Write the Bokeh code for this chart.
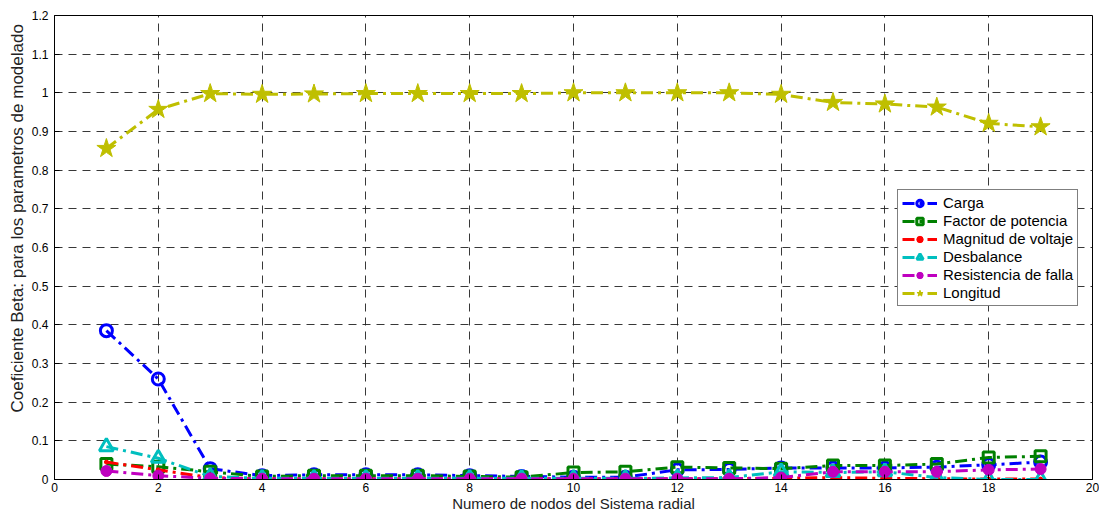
from bokeh.plotting import figure
from bokeh.models import Legend, LegendItem, FixedTicker, Title
from bokeh.embed import file_html
from bokeh.resources import INLINE

nodes = list(range(1, 20))
carga = [0.385, 0.26, 0.028, 0.010, 0.012, 0.012, 0.012, 0.010, 0.008, 0.006,
         0.006, 0.025, 0.026, 0.030, 0.030, 0.030, 0.032, 0.038, 0.045]
factor = [0.040, 0.033, 0.020, 0.008, 0.010, 0.010, 0.010, 0.008, 0.006, 0.018,
          0.020, 0.032, 0.030, 0.028, 0.036, 0.036, 0.040, 0.057, 0.060]
magnitud = [0.045, 0.025, 0.005, 0.002, 0.002, 0.002, 0.002, 0.002, 0.002, 0.002,
            0.002, 0.002, 0.002, 0.003, 0.005, 0.003, 0.002, 0.001, 0.001]
desbalance = [0.085, 0.055, 0.008, 0.003, 0.003, 0.003, 0.003, 0.003, 0.003, 0.003,
              0.003, 0.004, 0.005, 0.020, 0.018, 0.020, 0.005, 0.000, 0.000]
resistencia = [0.022, 0.010, 0.003, 0.002, 0.002, 0.002, 0.002, 0.002, 0.002, 0.002,
               0.002, 0.002, 0.002, 0.005, 0.020, 0.020, 0.020, 0.025, 0.027]
longitud = [0.856, 0.957, 0.998, 0.996, 0.997, 0.998, 0.998, 0.998, 0.998, 1.000,
            1.000, 1.000, 1.000, 0.996, 0.975, 0.971, 0.963, 0.921, 0.912]

series_names = ["Carga", "Factor de potencia", "Magnitud de voltaje",
                "Desbalance", "Resistencia de falla", "Longitud"]

x_ticks = [0, 2, 4, 6, 8, 10, 12, 14, 16, 18, 20]
y_ticks = [0, 0.1, 0.2, 0.3, 0.4, 0.5, 0.6, 0.7, 0.8, 0.9, 1.0, 1.1, 1.2]
y_tick_labels = ["0", "0.1", "0.2", "0.3", "0.4", "0.5", "0.6", "0.7", "0.8",
                 "0.9", "1", "1.1", "1.2"]
x_label = "Numero de nodos del Sistema radial"
y_label = "Coeficiente Beta: para los parametros de modelado"

FONT = "Liberation Sans"

p = figure(width=1099, height=514, x_range=(0, 20), y_range=(0, 1.2),
           output_backend="svg", toolbar_location=None,
           min_border_left=54, min_border_right=7, min_border_top=15,
           min_border_bottom=35)
p.background_fill_color = "white"
p.border_fill_color = "white"
p.outline_line_color = "black"
p.outline_line_width = 1
p.outline_line_alpha = 1

p.xaxis.ticker = FixedTicker(ticks=x_ticks)
p.yaxis.ticker = FixedTicker(ticks=y_ticks)
p.yaxis.major_label_overrides = {t: l for t, l in zip(y_ticks, y_tick_labels)}
for ax in (p.xaxis, p.yaxis):
    ax.major_tick_in = 5
    ax.major_tick_out = 0
    ax.minor_tick_line_color = None
    ax.axis_line_color = "black"
    ax.major_tick_line_color = "black"
    ax.major_label_text_font = FONT
    ax.major_label_text_font_size = "12px"
    ax.major_label_text_color = "black"
p.xaxis.axis_label = x_label
p.xaxis.axis_label_text_font = FONT
p.xaxis.axis_label_text_font_size = "15px"
p.xaxis.axis_label_text_font_style = "normal"
p.xaxis.axis_label_text_color = "#222222"
p.xaxis.major_label_standoff = 3
p.xaxis.axis_label_standoff = 0
p.yaxis.major_label_standoff = 6

# y axis title, placed like the original (above the frame centre)
ytitle = Title(text=y_label, align="left", offset=67, standoff=4,
               text_font=FONT, text_font_size="17px", text_font_style="normal",
               text_color="#222222")
p.add_layout(ytitle, "left")

for g in (p.xgrid, p.ygrid):
    g.grid_line_color = "#222222"
    g.grid_line_dash = "8 6"
    g.grid_line_width = 1
    g.grid_line_alpha = 0.9

dash = "12 5 3 5"
lw = 3
items = []

# Carga
l1 = p.line(nodes, carga, line_color="#0000FF", line_width=lw, line_dash=dash)
m1 = p.scatter(nodes, carga, marker="circle", size=12, fill_color=None,
               line_color="#0000FF", line_width=3)
items.append(LegendItem(label=series_names[0], renderers=[l1, m1]))
# Factor de potencia
l2 = p.line(nodes, factor, line_color="#008000", line_width=lw, line_dash=dash)
m2 = p.scatter(nodes, factor, marker="square", size=11, fill_color=None,
               line_color="#008000", line_width=3)
items.append(LegendItem(label=series_names[1], renderers=[l2, m2]))
# Magnitud de voltaje
l3 = p.line(nodes, magnitud, line_color="#FF0000", line_width=lw, line_dash=dash)
m3 = p.scatter(nodes, magnitud, marker="circle", size=4, fill_color="#FF0000",
               line_color="#FF0000")
items.append(LegendItem(label=series_names[2], renderers=[l3, m3]))
# Desbalance
l4 = p.line(nodes, desbalance, line_color="#00BFBF", line_width=lw, line_dash=dash)
m4 = p.scatter(nodes, desbalance, marker="triangle", size=14, fill_color=None,
               line_color="#00BFBF", line_width=3)
items.append(LegendItem(label=series_names[3], renderers=[l4, m4]))
# Resistencia de falla
l5 = p.line(nodes, resistencia, line_color="#BF00BF", line_width=lw, line_dash=dash)
m5 = p.scatter(nodes, resistencia, marker="circle", size=11, fill_color="#BF00BF",
               line_color="#BF00BF")
items.append(LegendItem(label=series_names[4], renderers=[l5, m5]))
# Longitud
l6 = p.line(nodes, longitud, line_color="#BFBF00", line_width=lw, line_dash=dash)
m6 = p.scatter(nodes, longitud, marker="star", size=20, fill_color="#BFBF00",
               line_color="#BFBF00", line_width=1)
items.append(LegendItem(label=series_names[5], renderers=[l6, m6]))

legend = Legend(items=items, location=(843, 173))
legend.border_line_color = "black"
legend.border_line_width = 1
legend.background_fill_color = "white"
legend.background_fill_alpha = 1
legend.label_text_font = FONT
legend.label_text_font_size = "15px"
legend.label_text_color = "black"
legend.glyph_width = 35
legend.glyph_height = 16
legend.spacing = 1
legend.padding = 4
legend.margin = 0
legend.label_standoff = 6
legend.label_height = 16
p.add_layout(legend, "center")

open("out.html", "w").write(file_html(p, INLINE))
